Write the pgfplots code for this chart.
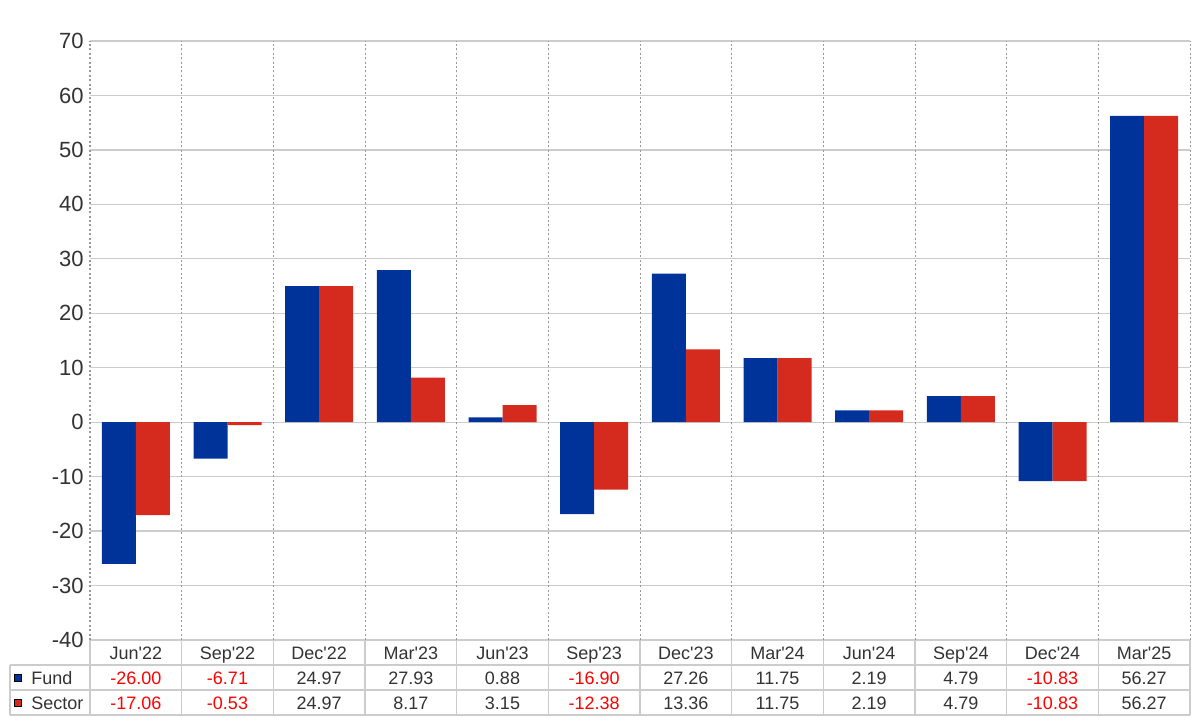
\documentclass[border=0pt]{standalone}
\usepackage{fontspec}
\newfontfamily\lib{Liberation Sans}
\usepackage{pgfplots}
\usepackage{pgfplotstable}
\pgfplotsset{compat=1.18}

\definecolor{fundblue}{HTML}{003399}
\definecolor{sectred}{HTML}{D52B1E}
\definecolor{gridgray}{HTML}{CCCCCC}
\definecolor{dotgray}{HTML}{999999}
\definecolor{txt}{HTML}{333333}
\definecolor{negred}{HTML}{FF0000}

% quarterly values, fund vs sector
\pgfplotstableread{
cat     fund    sector
Jun'22  -26.00  -17.06
Sep'22  -6.71   -0.53
Dec'22  24.97   24.97
Mar'23  27.93   8.17
Jun'23  0.88    3.15
Sep'23  -16.90  -12.38
Dec'23  27.26   13.36
Mar'24  11.75   11.75
Jun'24  2.19    2.19
Sep'24  4.79    4.79
Dec'24  -10.83  -10.83
Mar'25  56.27   56.27
}\data

\def\cw{45.8333pt}
\tikzset{cell/.style={inner sep=0pt, anchor=base, font=\lib\fontsize{9}{11}\selectfont}}

\begin{document}
\begin{tikzpicture}[font=\lib]
\begin{axis}[
    at={(0,0)}, anchor=south west,
    scale only axis, width=550pt, height=299.5pt,
    xmin=-0.5, xmax=11.5,
    ymin=-40, ymax=70,
    ytick={-40,-30,...,70},
    xtick=\empty,
    extra x ticks={-0.5,0.5,...,11.5},
    extra x tick labels={},
    extra x tick style={grid=major,
        major grid style={dotgray, line width=0.5pt, dash pattern=on 1pt off 1.2pt}},
    ymajorgrids,
    major grid style={gridgray, line width=0.6pt},
    axis line style={draw=none},
    tick style={draw=none},
    /pgf/number format/assume math mode=true,
    yticklabel style={font=\lib\fontsize{11}{13}\selectfont, text=txt,
        anchor=east, inner sep=0pt, xshift=-3pt},
    ybar=0pt, bar width=17pt,
    clip=false,
]
\addplot[fill=fundblue, draw=none] table[x expr=\coordindex, y=fund] {\data};
\addplot[fill=sectred, draw=none] table[x expr=\coordindex, y=sector] {\data};
\end{axis}

% data table under the plot
\begin{scope}[gridgray, line width=0.6pt]
  \draw (-40pt,-12.5pt) -- (550pt,-12.5pt);
  \draw (-40pt,-25pt) -- (550pt,-25pt);
  \draw (-40pt,-37.5pt) -- (550pt,-37.5pt);
  \draw (-40pt,-12.5pt) -- (-40pt,-37.5pt);
  \foreach \k in {0,...,12} \draw (\k*\cw,0pt) -- (\k*\cw,-37.5pt);
\end{scope}

\fill[fundblue, draw=black, line width=0.4pt] (-38pt,-20.5pt) rectangle (-34.5pt,-17pt);
\fill[sectred, draw=black, line width=0.4pt] (-38pt,-33pt) rectangle (-34.5pt,-29.5pt);
\node[cell, anchor=base west, text=txt] at (-29.5pt,-22pt) {Fund};
\node[cell, anchor=base west, text=txt] at (-29.5pt,-34.5pt) {Sector};

\foreach \i in {0,...,11} {
  \pgfplotstablegetelem{\i}{cat}\of\data
  \node[cell, text=txt] at ({(\i+0.5)*\cw},-9.5pt) {\pgfplotsretval};
  \pgfplotstablegetelem{\i}{fund}\of\data
  \pgfmathparse{\pgfplotsretval<0 ? 1 : 0}
  \ifnum\pgfmathresult=1 \def\vc{negred}\else\def\vc{txt}\fi
  \node[cell, text=\vc] at ({(\i+0.5)*\cw},-22pt) {\pgfplotsretval};
  \pgfplotstablegetelem{\i}{sector}\of\data
  \pgfmathparse{\pgfplotsretval<0 ? 1 : 0}
  \ifnum\pgfmathresult=1 \def\vc{negred}\else\def\vc{txt}\fi
  \node[cell, text=\vc] at ({(\i+0.5)*\cw},-34.5pt) {\pgfplotsretval};
}

\pgfresetboundingbox
\path[use as bounding box] (-45pt,-40pt) rectangle (555pt,320pt);
\end{tikzpicture}
\end{document}
